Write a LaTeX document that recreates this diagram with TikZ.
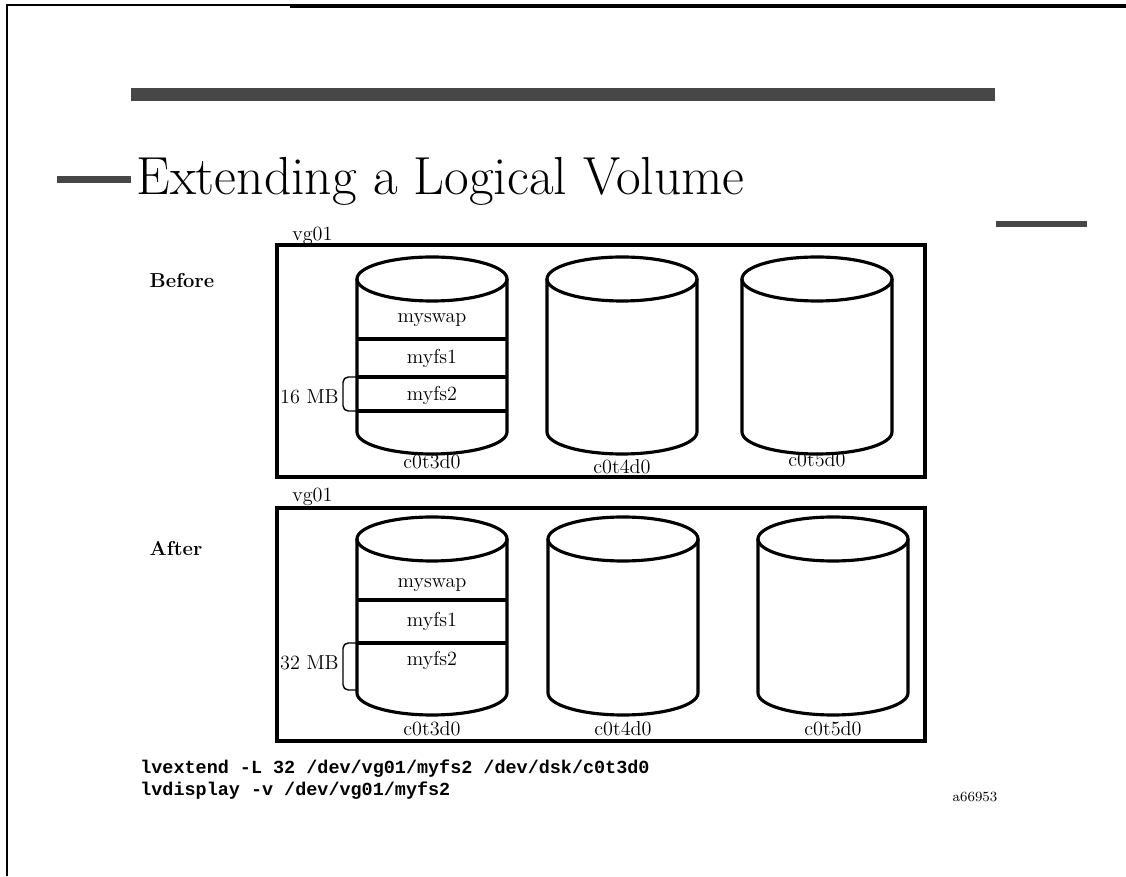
\documentclass[tikz,border=0pt]{standalone}
\usepackage{fontspec}
\setmonofont{Liberation Mono}
\begin{document}
\tikzset{
  disk/.style={line width=1.8pt},
  vgbox/.style={line width=2.2pt},
  bar/.style={fill=black!72, draw=none},
  lbl/.style={font=\fontsize{11.5}{13}\selectfont, inner sep=0pt},
  tag/.style={font=\fontsize{11.5}{13}\selectfont\bfseries, inner sep=0pt},
  cmd/.style={font=\fontsize{10.5}{12}\selectfont\ttfamily\bfseries, inner sep=0pt, anchor=base west},
}
\begin{tikzpicture}[x=0.02cm, y=0.02cm]
\useasboundingbox (0,0) rectangle (1126,876);
% page frame
\draw[line width=1.1pt] (7,0) -- (7,871) -- (290,871);
\draw[line width=1.8pt] (290,870) -- (1126,870);
% header bars
\fill[bar] (131,775) rectangle (995,788);
\fill[bar] (57,693) rectangle (131,700);
\fill[bar] (996,649) rectangle (1087,655);
\node[anchor=base west, inner sep=0pt, font=\fontsize{30.5}{34}\selectfont] (title) at (136,681) {Extending a Logical Volume};

% volume group boxes
\draw[vgbox] (277,399) rectangle (925,631);
\node[lbl, anchor=west] (vgtop) at (292,640) {vg01};
\draw[vgbox] (277,135) rectangle (925,368);
\node[lbl, anchor=west] (vgbot) at (292,379) {vg01};
\node[tag] (before) at (182,596) {Before};
\node[tag] (after) at (176,328) {After};

% disks: centre x / top y / bottom y
\foreach \cx/\ty/\by in {432/597/444, 622/597/444, 817/597/444,
                         432/337/183, 623/337/183, 833/337/183} {
  \draw[disk] (\cx,\ty) ellipse [x radius=75, y radius=22];
  \draw[disk] (\cx-75,\ty) -- (\cx-75,\by)
    arc[start angle=180, end angle=360, x radius=75, y radius=22] -- (\cx+75,\ty);
}
\node[lbl] (d3a) at (432,414) {c0t3d0};
\node[lbl] (d4a) at (622,409) {c0t4d0};
\node[lbl] (d5a) at (817,416) {c0t5d0};
\node[lbl] (d3b) at (432,147) {c0t3d0};
\node[lbl] (d4b) at (623,147) {c0t4d0};
\node[lbl] (d5b) at (833,147) {c0t5d0};

% logical volumes before
\draw[disk] (357,537) -- (507,537);
\draw[disk] (357,499) -- (507,499);
\draw[disk] (357,465) -- (507,465);
\node[lbl] (swapa) at (432,556) {myswap};
\node[lbl] (fsonea) at (432,518) {myfs1};
\node[lbl] (fstwoa) at (432,481) {myfs2};
\draw[line width=0.8pt, rounded corners=3] (357,499) -- (343,499) -- (343,465) -- (357,465);
\node[lbl, anchor=east] (sizea) at (339,479) {16 MB};

% logical volumes after
\draw[disk] (357,276) -- (507,276);
\draw[disk] (357,233) -- (507,233);
\node[lbl] (swapb) at (432,291) {myswap};
\node[lbl] (fsoneb) at (432,255) {myfs1};
\node[lbl] (fstwob) at (432,216) {myfs2};
\draw[line width=0.8pt, rounded corners=3] (357,233) -- (343,233) -- (343,186) -- (357,186);
\node[lbl, anchor=east] (sizeb) at (339,213) {32 MB};

% commands
\node[cmd] (extend) at (140,103) {lvextend -L 32 /dev/vg01/myfs2 /dev/dsk/c0t3d0};
\node[cmd] (display) at (140,81) {lvdisplay -v /dev/vg01/myfs2};
\node[font=\fontsize{8}{9}\selectfont, inner sep=0pt] (fig) at (975,79) {a66953};
\end{tikzpicture}
\end{document}
